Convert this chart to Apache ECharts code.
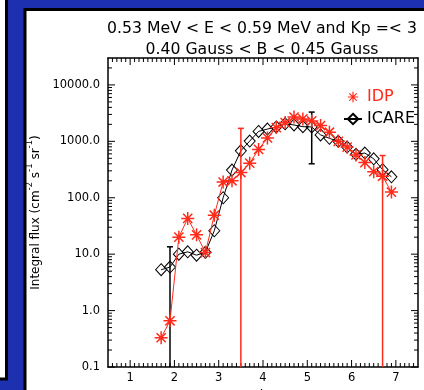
<!DOCTYPE html>
<html><head><meta charset="utf-8">
<script src="https://cdn.jsdelivr.net/npm/echarts@6/dist/echarts.min.js"></script>
<style>html,body{margin:0;padding:0;background:#1c30b0;} #c{width:424px;height:390px;}</style>
</head><body><div id="c"></div>
<script>
// ---- data ----
const L = [1.7,1.9,2.1,2.3,2.5,2.7,2.9,3.1,3.3,3.5,3.7,3.9,4.1,4.3,4.5,4.7,4.9,5.1,5.3,5.5,5.7,5.9,6.1,6.3,6.5,6.7,6.9];
const idpFlux = [0.33,0.66,20,43,22,10.7,49,190,200,280,410,720,1150,1750,2150,2700,2500,2300,1900,1450,1000,790,575,420,290,240,126];
const icareFlux = [5.3,5.9,10,11,9.6,10.8,26,100,310,680,1010,1500,1650,1800,2050,1950,1820,1800,1300,1130,1000,790,590,620,490,315,235];
const idpErrL = [3.5, 6.7];
const idpErrLow = [0.1, 0.1];
const idpErrHigh = [1700, 560];
const icareErrL = [1.9, 5.1];
const icareErrLow = [0.1, 400];
const icareErrHigh = [13.5, 3300];
const xTickLabels = ['1','2','3','4','5','6','7'];
const xMajorTicks = [1,2,3,4,5,6,7];
const yTickLabels = ['0.1','1.0','10.0','100.0','1000.0','10000.0'];
const yMajorTicks = [0.1,1,10,100,1000,10000];
const titleLines = ['0.53 MeV < E < 0.59 MeV and Kp =< 3', '0.40 Gauss < B < 0.45 Gauss'];
const seriesNames = ['IDP', 'ICARE'];
const X_MIN = 0.5, X_MAX = 7.5, Y_MIN = 0.1, Y_MAX = 30000;

const RED = '#ff2a1a';
const FONT = 'DejaVu Sans';

// minor tick positions
const xMinorTicks = [];
for (let i = 6; i <= 74; i++) { if (i % 10 !== 0) xMinorTicks.push(i / 10); }
const yMinorTicks = [];
for (let e = -1; e <= 4; e++) for (let k = 2; k <= 9; k++) { const v = k * Math.pow(10, e); if (v < Y_MAX) yMinorTicks.push(v); }

const xTickData = xMajorTicks.map(v => [v, Y_MIN, 1]).concat(xMinorTicks.map(v => [v, Y_MIN, 0]));
const yTickData = yMajorTicks.map(v => [X_MIN, v, 1]).concat(yMinorTicks.map(v => [X_MIN, v, 0]));

const STAR = 'path://M-0.8 -7L0.8 -7L0.8 7L-0.8 7Z M-7 -0.8L7 -0.8L7 0.8L-7 0.8Z M4.384 -5.516L5.516 -4.384L-4.384 5.516L-5.516 4.384Z M-5.516 -4.384L-4.384 -5.516L5.516 4.384L4.384 5.516Z';

function xTickRender(params, api) {
  const v = api.value(0), major = api.value(2);
  const len = major ? 7 : 4;
  const b = api.coord([v, Y_MIN]), t = api.coord([v, Y_MAX]);
  const st = { stroke: '#000', lineWidth: 1 };
  return { type: 'group', children: [
    { type: 'line', shape: { x1: b[0], y1: b[1], x2: b[0], y2: b[1] - len }, style: st },
    { type: 'line', shape: { x1: t[0], y1: t[1], x2: t[0], y2: t[1] + len }, style: st }
  ]};
}
function yTickRender(params, api) {
  const v = api.value(1), major = api.value(2);
  const len = major ? 7 : 4;
  const l = api.coord([X_MIN, v]), r = api.coord([X_MAX, v]);
  const st = { stroke: '#000', lineWidth: 1 };
  return { type: 'group', children: [
    { type: 'line', shape: { x1: l[0], y1: l[1], x2: l[0] + len, y2: l[1] }, style: st },
    { type: 'line', shape: { x1: r[0], y1: r[1], x2: r[0] - len, y2: r[1] }, style: st }
  ]};
}
function errRender(color) {
  return function (params, api) {
    const x = api.value(0), lo = api.value(1), hi = api.value(2);
    const pLo = api.coord([x, lo]), pHi = api.coord([x, hi]);
    const st = { stroke: color, lineWidth: 1.5 };
    const ch = [
      { type: 'line', shape: { x1: pLo[0], y1: pLo[1], x2: pHi[0], y2: pHi[1] }, style: st },
      { type: 'line', shape: { x1: pHi[0] - 3, y1: pHi[1], x2: pHi[0] + 3, y2: pHi[1] }, style: st }
    ];
    if (lo > Y_MIN) ch.push({ type: 'line', shape: { x1: pLo[0] - 3, y1: pLo[1], x2: pLo[0] + 3, y2: pLo[1] }, style: st });
    return { type: 'group', children: ch };
  };
}
function isPow10(v) { const l = Math.log10(v); return Math.abs(l - Math.round(l)) < 1e-6; }

const chart = echarts.init(document.getElementById('c'), null, { renderer: 'canvas' });
chart.setOption({
  animation: false,
  textStyle: { fontFamily: FONT },
  graphic: [
    { type: 'rect', z: -100, shape: { x: 0, y: 0, width: 424, height: 390 }, style: { fill: '#1c30b0' } },
    { type: 'rect', z: -99, shape: { x: -10, y: -10, width: 16.5, height: 389 }, style: { fill: '#fff', stroke: '#000', lineWidth: 3 } },
    { type: 'rect', z: -99, shape: { x: 25, y: 9.5, width: 410, height: 400 }, style: { fill: '#fff', stroke: '#000', lineWidth: 3 } }
  ],
  title: {
    text: titleLines.join('\n'), left: 257, top: 13.5, textAlign: 'center',
    textStyle: { fontSize: 15.7, fontWeight: 'normal', color: '#000', lineHeight: 21, fontFamily: FONT }
  },
  legend: {
    orient: 'vertical', left: 338, top: 84, itemWidth: 18, itemHeight: 13, itemGap: 6,
    textStyle: { fontSize: 16, fontFamily: FONT },
    data: [
      { name: seriesNames[0], textStyle: { color: RED }, lineStyle: { opacity: 0 } },
      { name: seriesNames[1], textStyle: { color: '#000' } }
    ]
  },
  grid: { left: 108, right: 6, top: 58, bottom: 23, outerBoundsMode: 'none', containLabel: false },
  xAxis: [
    { type: 'value', min: X_MIN, max: X_MAX, interval: 0.5, position: 'bottom',
      axisLine: { show: true, onZero: false, lineStyle: { color: '#000', width: 1.5 } },
      axisTick: { show: false }, splitLine: { show: false },
      axisLabel: { color: '#000', fontSize: 11.5, margin: 5, fontFamily: FONT,
        formatter: v => { const i = xMajorTicks.findIndex(t => Math.abs(t - v) < 1e-6); return i >= 0 ? xTickLabels[i] : ''; } },
      name: 'L', nameLocation: 'middle', nameGap: 16, nameTextStyle: { color: '#000', fontSize: 12, fontFamily: FONT } },
    { type: 'value', min: X_MIN, max: X_MAX, position: 'top',
      axisLine: { show: true, onZero: false, lineStyle: { color: '#000', width: 1.5 } },
      axisTick: { show: false }, axisLabel: { show: false }, splitLine: { show: false } }
  ],
  yAxis: [
    { type: 'log', logBase: 10, min: Y_MIN, max: Y_MAX, position: 'left',
      axisLine: { show: true, onZero: false, lineStyle: { color: '#000', width: 1.5 } },
      axisTick: { show: false }, minorTick: { show: false }, splitLine: { show: false },
      axisLabel: { color: '#000', fontSize: 11.5, margin: 8, fontFamily: FONT, showMaxLabel: false,
        formatter: v => { if (!isPow10(v)) return ''; const i = yMajorTicks.findIndex(t => Math.abs(Math.log10(t) - Math.log10(v)) < 1e-6); return i >= 0 ? yTickLabels[i] : ''; } },
      name: '{t|Integral flux (cm}{s|-2}{t| s}{s|-1}{t| sr}{s|-1}{t|)}',
      nameLocation: 'middle', nameRotate: 90, nameGap: 61,
      nameTextStyle: { color: '#000', rich: {
        t: { fontSize: 12, lineHeight: 16, verticalAlign: 'bottom', color: '#000', fontFamily: FONT },
        s: { fontSize: 8.5, lineHeight: 16, verticalAlign: 'top', color: '#000', fontFamily: FONT }
      } } },
    { type: 'log', logBase: 10, min: Y_MIN, max: Y_MAX, position: 'right',
      axisLine: { show: true, onZero: false, lineStyle: { color: '#000', width: 1.5 } },
      axisTick: { show: false }, minorTick: { show: false }, axisLabel: { show: false }, splitLine: { show: false } }
  ],
  series: [
    { type: 'custom', name: 'xticks', xAxisIndex: 0, yAxisIndex: 0, data: xTickData, encode: { x: 0, y: 1 }, renderItem: xTickRender, silent: true },
    { type: 'custom', name: 'yticks', xAxisIndex: 0, yAxisIndex: 0, data: yTickData, encode: { x: 0, y: 1 }, renderItem: yTickRender, silent: true },
    { type: 'line', name: seriesNames[1], xAxisIndex: 0, yAxisIndex: 0,
      data: L.map((x, i) => [x, icareFlux[i]]),
      symbol: 'diamond', symbolSize: [11, 12], showAllSymbol: true,
      itemStyle: { color: 'rgba(255,255,255,0)', borderColor: '#000', borderWidth: 1 },
      lineStyle: { color: '#000', width: 1 }, emphasis: { disabled: true }, z: 3 },
    { type: 'custom', name: 'icareErr', xAxisIndex: 0, yAxisIndex: 0,
      data: icareErrL.map((x, i) => [x, icareErrLow[i], icareErrHigh[i]]),
      encode: { x: 0, y: [1, 2] }, renderItem: errRender('#000'), z: 3, silent: true },
    { type: 'line', name: seriesNames[0], xAxisIndex: 0, yAxisIndex: 0,
      data: L.map((x, i) => [x, idpFlux[i]]),
      symbol: STAR, symbolSize: 13, showAllSymbol: true,
      itemStyle: { color: RED },
      lineStyle: { color: RED, width: 1 }, emphasis: { disabled: true }, z: 4 },
    { type: 'custom', name: 'idpErr', xAxisIndex: 0, yAxisIndex: 0,
      data: idpErrL.map((x, i) => [x, idpErrLow[i], idpErrHigh[i]]),
      encode: { x: 0, y: [1, 2] }, renderItem: errRender(RED), z: 4, silent: true }
  ]
});
</script></body></html>
